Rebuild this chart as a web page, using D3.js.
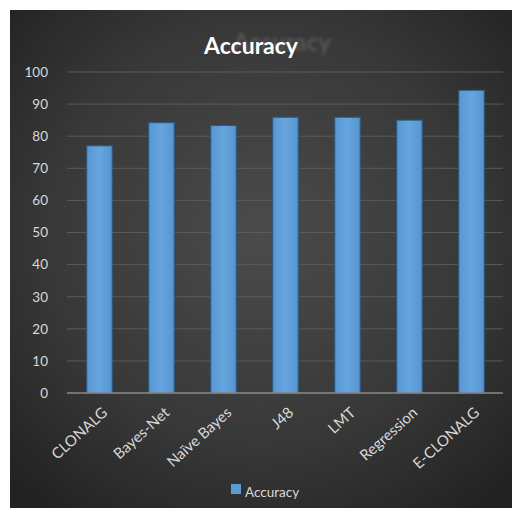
<!DOCTYPE html>
<html><head><meta charset="utf-8">
<script src="https://cdn.jsdelivr.net/npm/d3@7"></script>
<style>html,body{margin:0;padding:0;background:#fff;}svg{display:block;}</style>
</head><body>
<svg id="chart" width="512" height="508"></svg>
<script>
const categories = ["CLONALG","Bayes-Net","Naïve Bayes","J48","LMT","Regression","E-CLONALG"];
const accuracy = [77.0, 84.2, 83.3, 85.9, 85.9, 85.0, 94.3];
const yTicks = [0,10,20,30,40,50,60,70,80,90,100];
const seriesName = "Accuracy";

const svg = d3.select("#chart");
const defs = svg.append("defs");
const bg = defs.append("radialGradient").attr("id","bg").attr("cx","50%").attr("cy","45%").attr("r","70%");
bg.append("stop").attr("offset","0%").attr("stop-color","#4b4b4b");
bg.append("stop").attr("offset","60%").attr("stop-color","#383838");
bg.append("stop").attr("offset","100%").attr("stop-color","#222");
const bar = defs.append("linearGradient").attr("id","bar").attr("x1","0").attr("x2","1").attr("y1","0").attr("y2","0");
bar.append("stop").attr("offset","0%").attr("stop-color","#5897d3");
bar.append("stop").attr("offset","50%").attr("stop-color","#67a5e0");
bar.append("stop").attr("offset","100%").attr("stop-color","#5694d0");
const blur = defs.append("filter").attr("id","blur").attr("x","-20%").attr("y","-50%").attr("width","140%").attr("height","200%");
blur.append("feGaussianBlur").attr("stdDeviation",1.5);

svg.append("rect").attr("x",10).attr("y",10).attr("width",502).attr("height",498).attr("fill","url(#bg)");

const font = "Lato, 'Open Sans', sans-serif";
const x = d3.scaleBand().domain(categories).range([68.5,502.5]).paddingInner(0.59).paddingOuter(0.295);
const y = d3.scaleLinear().domain([0,100]).range([393,72]);

// grid
svg.append("g").selectAll("line").data(yTicks.filter(d=>d>0)).join("line")
  .attr("x1",67).attr("x2",503).attr("y1",d=>y(d)).attr("y2",d=>y(d))
  .attr("stroke","#5a5a5a").attr("stroke-width",1);

// bars
svg.append("g").selectAll("rect").data(accuracy).join("rect")
  .attr("x",(d,i)=>x(categories[i])).attr("width",x.bandwidth())
  .attr("y",d=>y(d)).attr("height",d=>y(0)-y(d))
  .attr("fill","url(#bar)").attr("stroke","#2f5b85").attr("stroke-width",1);

// axis line
svg.append("line").attr("x1",67).attr("x2",503).attr("y1",y(0)).attr("y2",y(0))
  .attr("stroke","#8a8a8a").attr("stroke-width",1.5);

// y axis
const yAxis = d3.axisLeft(y).tickValues(yTicks).tickSize(0).tickPadding(0);
const gy = svg.append("g").attr("transform","translate(48,0)").call(yAxis);
gy.select(".domain").remove();
gy.selectAll("text").attr("fill","#d9d9d9").style("font-family",font).style("font-size","13.5px");

// x axis
const xAxis = d3.axisBottom(x).tickSize(0).tickPadding(0);
const gx = svg.append("g").attr("transform",`translate(0,${y(0)})`).call(xAxis);
gx.select(".domain").remove();
gx.selectAll("text").attr("fill","#d9d9d9").style("font-family",font).style("font-size","15px")
  .attr("text-anchor","end").attr("dy","0").attr("y",0)
  .attr("transform","translate(9,21) rotate(-42)");

// title ghost and title
svg.append("text").attr("x",282).attr("y",51).attr("text-anchor","middle")
  .style("font-family",font).style("font-size","24px").style("font-weight","bold")
  .attr("fill","#555").attr("filter","url(#blur)").text("Accuracy");
svg.append("text").attr("x",251).attr("y",54).attr("text-anchor","middle")
  .style("font-family",font).style("font-size","23px").style("font-weight","bold")
  .attr("fill","#ffffff").text("Accuracy");

// legend
svg.append("rect").attr("x",231).attr("y",484).attr("width",10).attr("height",10).attr("fill","#5b9bd5");
svg.append("text").attr("x",245).attr("y",497).style("font-family",font).style("font-size","13.5px")
  .attr("fill","#d9d9d9").text(seriesName);
</script>
</body></html>
